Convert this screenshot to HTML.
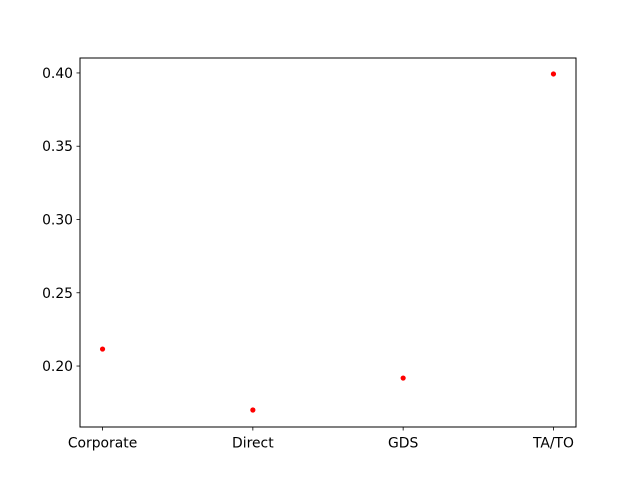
<!DOCTYPE html>
<html><head><meta charset="utf-8"><style>
html,body{margin:0;padding:0;background:#fff;}
svg{display:block;font-family:"DejaVu Sans","Liberation Sans",sans-serif;}
</style></head><body>
<svg id="chart" width="640" height="480" viewBox="0 0 640 480">
<rect width="640" height="480" fill="#fff"/>
<g id="ticks"></g>
<g id="points"></g>
<rect x="80" y="58" width="496" height="369" fill="none" stroke="#000" stroke-width="1"/>
</svg>
<script>
const categories = ["Corporate","Direct","GDS","TA/TO"];
const values = [0.2116, 0.170, 0.1918, 0.3993];
const yTickValues = [0.20, 0.25, 0.30, 0.35, 0.40];
const yTickLabels = ["0.20","0.25","0.30","0.35","0.40"];

const L=80,R=576,T=58,B=427;
const xMin=-0.15,xMax=3.15,yMin=0.1584,yMax=0.4102;
function xs(i){return L+(i-xMin)/(xMax-xMin)*(R-L);}
function ys(v){return B-(v-yMin)/(yMax-yMin)*(B-T);}
const NS="http://www.w3.org/2000/svg";
const tg=document.getElementById('ticks'), pg=document.getElementById('points');
function mk(tag,attrs,parent){const e=document.createElementNS(NS,tag);for(const k in attrs)e.setAttribute(k,attrs[k]);parent.appendChild(e);return e;}
categories.forEach((c,i)=>{
  const x=xs(i);
  const t=mk('line',{x1:x,x2:x,y1:B,y2:B+3.5,stroke:'#000','stroke-width':0.8},tg);
  
  
  const lb=mk('text',{x:x,y:B+20.5,'text-anchor':'middle','font-size':13.9,fill:'#000'},tg);
  lb.textContent=c;
  
  
});
yTickValues.forEach((v,i)=>{
  const y=ys(v);
  const t=mk('line',{x1:L-3.5,x2:L,y1:y,y2:y,stroke:'#000','stroke-width':0.8},tg);
  
  
  const lb=mk('text',{x:L-7,y:y+5,'text-anchor':'end','font-size':13.9,fill:'#000'},tg);
  lb.textContent=yTickLabels[i];
  
  
});
values.forEach((v,i)=>{
  const p=mk('circle',{cx:xs(i),cy:ys(v),r:2.6,fill:'#ff0000'},pg);
  
  
});
</script>
</body></html>
